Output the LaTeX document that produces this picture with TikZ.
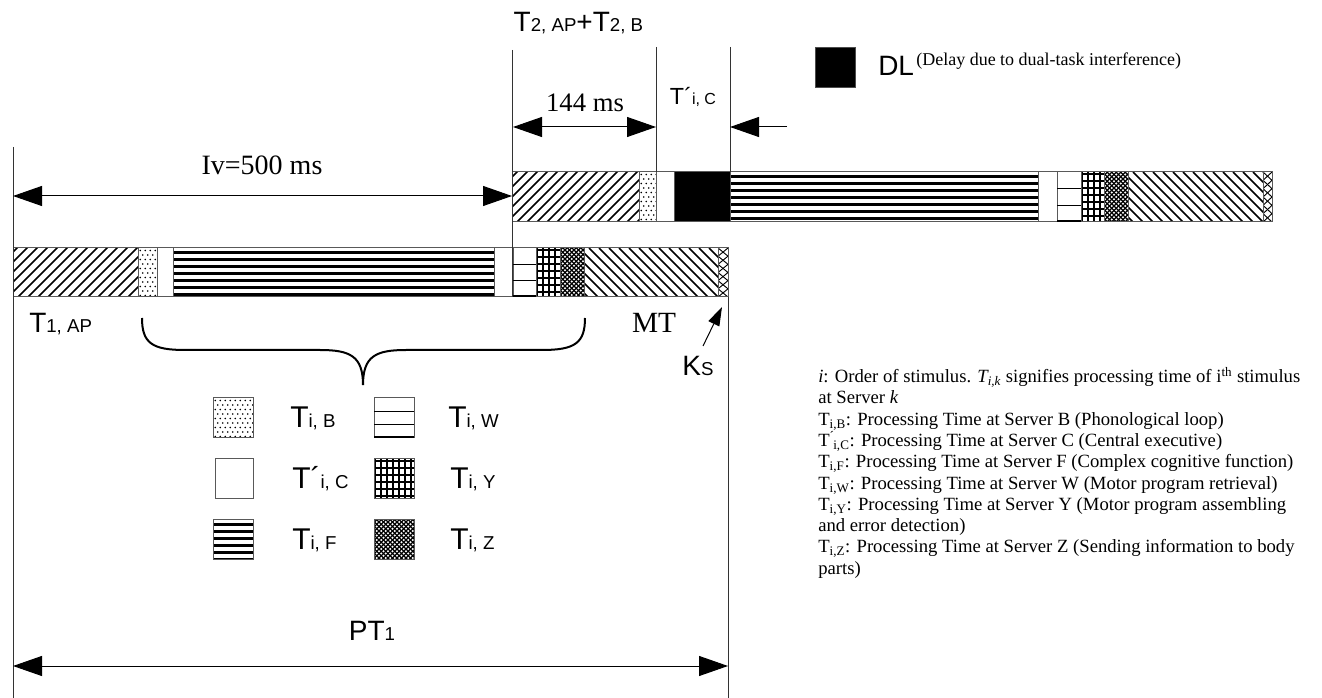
\documentclass[tikz,border=0pt]{standalone}
\usepackage{fontspec}
\setmainfont{Liberation Serif}
\newfontfamily\arialf{Liberation Sans}
\usetikzlibrary{arrows.meta}
\newcommand\TT[4]{{\arialf\fontsize{#1}{#1}\selectfont #3\fontsize{#2}{#2}\selectfont #4}}
\tikzset{
  hl/.style={line width=1.1pt},
  sep/.style={draw=black!65, line width=0.75pt},
  ddim/.style={line width=0.75pt,{Triangle[length=21.75pt,width=15pt]}-{Triangle[length=21.75pt,width=15pt]}},
  sdim/.style={line width=0.75pt,-{Triangle[length=21.75pt,width=15pt]}},
  vline/.style={line width=0.75pt, draw=black!80},
}
% pattern macros: x1,y1,x2,y2
\newcommand\segNE[4]{\begin{scope}\clip (#1,#2) rectangle (#3,#4);
  \foreach \k in {0,10,...,220}{\draw[hl] ({#1-55+\k},#4) -- ++(60,-60);}
  \end{scope}\draw[sep] (#1,#2) rectangle (#3,#4);}
\newcommand\segNW[4]{\begin{scope}\clip (#1,#2) rectangle (#3,#4);
  \foreach \k in {0,10,...,220}{\draw[hl] ({#1-55+\k},#2) -- ++(60,60);}
  \end{scope}\draw[sep] (#1,#2) rectangle (#3,#4);}
\newcommand\segDots[4]{\begin{scope}\clip (#1,#2) rectangle (#3,#4);
  \foreach \i in {0,...,9}{\foreach \j in {0,...,11}{
    \fill ({#1+2.2+\i*5+mod(\j,2)*2.5},{#2+2.5+\j*4.5}) circle (0.9);}}
  \end{scope}\draw[sep] (#1,#2) rectangle (#3,#4);}
\newcommand\segWhite[4]{\draw[sep,fill=white] (#1,#2) rectangle (#3,#4);}
\newcommand\segBlack[4]{\draw[sep,fill=black] (#1,#2) rectangle (#3,#4);}
\newcommand\segStripes[4]{\begin{scope}\clip (#1,#2) rectangle (#3,#4);
  \foreach \j in {0,...,7}{\draw[line width=2.4pt] (#1,{#2+4.5+7*\j}) -- (#3,{#2+4.5+7*\j});}
  \end{scope}\draw[sep] (#1,#2) rectangle (#3,#4);}
\newcommand\segW[4]{\draw[sep] (#1,#2) rectangle (#3,#4);
  \draw[line width=0.9pt] (#1,{#2+(#4-#2)/3}) -- (#3,{#2+(#4-#2)/3});
  \draw[line width=0.9pt] (#1,{#2+2*(#4-#2)/3}) -- (#3,{#2+2*(#4-#2)/3});
  \draw[line width=1.4pt] (#1,{#4-0.8}) -- (#3,{#4-0.8});}
\newcommand\segGrid[4]{\begin{scope}\clip (#1,#2) rectangle (#3,#4);
  \foreach \k in {0,...,12}{\draw[line width=1.1pt] ({#1+1+6*\k},#2) -- ++(0,60);
     \draw[line width=1.1pt] (#1,{#2+2+7*\k}) -- ++(60,0);}
  \end{scope}\draw[sep] (#1,#2) rectangle (#3,#4);}
\newcommand\segZ[4]{\begin{scope}\clip (#1,#2) rectangle (#3,#4);
  \foreach \k in {0,...,30}{\draw[line width=0.85pt] ({#1-60+4.5*\k},#2) -- ++(60,60);
     \draw[line width=0.85pt] ({#1-60+4.5*\k},#4) -- ++(60,-60);}
  \end{scope}\draw[sep] (#1,#2) rectangle (#3,#4);}
\newcommand\segX[4]{\begin{scope}\clip (#1,#2) rectangle (#3,#4);
  \draw[line width=0.7pt] (#1,#2) \foreach \m in {1,...,6}{ -- ({#1+mod(\m,2)*(#3-#1)},{#2+\m*(#4-#2)/6})};
  \draw[line width=0.7pt] (#3,#2) \foreach \m in {1,...,6}{ -- ({#3-mod(\m,2)*(#3-#1)},{#2+\m*(#4-#2)/6})};
  \end{scope}\draw[sep] (#1,#2) rectangle (#3,#4);}

\begin{document}
\begin{tikzpicture}[x=0.75pt,y=-0.75pt]
\useasboundingbox (0,0) rectangle (1322,698);

% ---- bottom bar (stimulus 1)
\segNE{13}{248}{138}{297}
\segDots{138}{248}{157}{297}
\segWhite{157}{248}{173}{297}
\segStripes{173}{248}{494}{297}
\segWhite{494}{248}{513}{297}
\segW{513}{248}{536}{297}
\segGrid{536}{248}{560}{297}
\segZ{560}{248}{584}{297}
\segNW{584}{248}{718}{297}
\segX{718}{248}{728}{297}

% ---- top bar (stimulus 2)
\segNE{512}{172}{639}{222}
\segDots{639}{172}{656}{222}
\segWhite{656}{172}{674}{222}
\segBlack{674}{172}{730}{222}
\segStripes{730}{172}{1038}{222}
\segWhite{1038}{172}{1057}{222}
\segW{1057}{172}{1081}{222}
\segGrid{1081}{172}{1104}{222}
\segZ{1104}{172}{1128}{222}
\segNW{1128}{172}{1263}{222}
\segX{1263}{172}{1272}{222}

% ---- reference lines
\coordinate (l0t) at (13,147);  \coordinate (l0b) at (13,698);
\coordinate (l1t) at (512,50);  \coordinate (l1b) at (512,297);
\coordinate (l2t) at (656,47);  \coordinate (l2b) at (656,172);
\coordinate (l3t) at (730,47);  \coordinate (l3b) at (730,172);
\coordinate (l4t) at (728,297); \coordinate (l4b) at (728,698);
\draw[vline] (l0t) -- (l0b);
\draw[vline] (l1t) -- (l1b);
\draw[vline] (l2t) -- (l2b);
\draw[vline] (l3t) -- (l3b);
\draw[vline] (l4t) -- (l4b);

% ---- dimension arrows
\coordinate (ivL) at (13,196);  \coordinate (ivR) at (512,196);
\draw[ddim] (ivL) -- (ivR);
\node (iv) at (262,165) {\fontsize{21pt}{22pt}\selectfont Iv=500 ms};

\coordinate (msL) at (513,127); \coordinate (msR) at (656,127);
\draw[ddim] (msL) -- (msR);
\node (ms) at (585,103) {\fontsize{20pt}{22pt}\selectfont 144 ms};
\coordinate (tcA) at (787,127); \coordinate (tcB) at (730,127);
\draw[sdim] (tcA) -- (tcB);
\node (tc) at (693,97) {\TT{17.5pt}{12pt}{T´}{i, C}};

\node[anchor=west] (t2) at (509,23) {\TT{21pt}{14pt}{T}{2, AP}\TT{21pt}{14pt}{+T}{2, B}};

% ---- DL legend
\node[draw=black!70, fill=black, minimum width=30pt, minimum height=30pt, inner sep=0pt] (dlbox) at (835,67) {};
\node[anchor=base west, inner sep=0pt] (dl) at (878,76) {\TT{21pt}{21pt}{DL}{}};
\node[anchor=base west, inner sep=0pt] (dlt) at (916,66) {\fontsize{13.5pt}{15pt}\selectfont (Delay due to dual-task interference)};

% ---- labels under bottom bar
\node[anchor=west, inner sep=0pt] (t1) at (29,324) {\TT{21pt}{14pt}{T}{1, AP}};
\node (mt) at (654,323) {\fontsize{22pt}{24pt}\selectfont MT};
\node (ks) at (698,366) {\TT{21pt}{14pt}{K}{S}};
\coordinate (ksA) at (703,346); \coordinate (ksB) at (722,307);
\draw[line width=0.75pt,-{Triangle[length=14pt,width=9pt]}] (ksA) -- (ksB);

% brace
\draw[line width=1.5pt] (142,318) .. controls (142,343) and (152,350) .. (185,350) -- (320,350)
   .. controls (350,350) and (363,356) .. (363,385);
\draw[line width=1.5pt] (585,318) .. controls (585,343) and (575,350) .. (542,350) -- (406,350)
   .. controls (376,350) and (363,356) .. (363,385);

% ---- legend boxes
\segDots{213}{398}{253}{438}
\segW{374}{398}{414}{438}
\segWhite{215}{459}{253}{499}
\segGrid{374}{459}{414}{499}
\segStripes{213}{520}{253}{560}
\segZ{374}{520}{414}{560}
\node[anchor=west, inner sep=0pt] (lb) at (290,418) {\TT{22.5pt}{14pt}{T}{i, B}};
\node[anchor=west, inner sep=0pt] (lw) at (448,418) {\TT{22.5pt}{14pt}{T}{i, W}};
\node[anchor=west, inner sep=0pt] (lc) at (292,479) {\TT{22.5pt}{14pt}{T´}{i, C}};
\node[anchor=west, inner sep=0pt] (ly) at (450,479) {\TT{22.5pt}{14pt}{T}{i, Y}};
\node[anchor=west, inner sep=0pt] (lf) at (292,540) {\TT{22.5pt}{14pt}{T}{i, F}};
\node[anchor=west, inner sep=0pt] (lz) at (450,540) {\TT{22.5pt}{14pt}{T}{i, Z}};

% ---- PT1
\coordinate (ptL) at (13,666); \coordinate (ptR) at (728,666);
\draw[ddim] (ptL) -- (ptR);
\node (pt) at (372,631) {\TT{21pt}{14pt}{PT}{1}};

% ---- explanatory text
\begin{scope}[every node/.style={anchor=base west, inner sep=0pt, text height=10pt, text depth=3pt, font=\fontsize{14pt}{15pt}\selectfont}]
\node (e1) at (818,383) {\textit{i}: Order of stimulus. \textit{T\textsubscript{i,k}} signifies processing time of i\textsuperscript{th} stimulus};
\node (e2) at (818,404) {at Server \textit{k}};
\node (e3) at (818,426) {T\textsubscript{i,B}: Processing Time at Server B (Phonological loop)};
\node (e4) at (818,447) {T\textsuperscript{´}\kern-1pt\textsubscript{i,C}: Processing Time at Server C (Central executive)};
\node (e5) at (818,468) {T\textsubscript{i,F}: Processing Time at Server F (Complex cognitive function)};
\node (e6) at (818,490) {T\textsubscript{i,W}: Processing Time at Server W (Motor program retrieval)};
\node (e7) at (818,511) {T\textsubscript{i,Y}: Processing Time at Server Y (Motor program assembling};
\node (e8) at (818,532) {and error detection)};
\node (e9) at (818,553) {T\textsubscript{i,Z}: Processing Time at Server Z (Sending information to body};
\node (e10) at (818,575) {parts)};
\end{scope}
\end{tikzpicture}
\end{document}
